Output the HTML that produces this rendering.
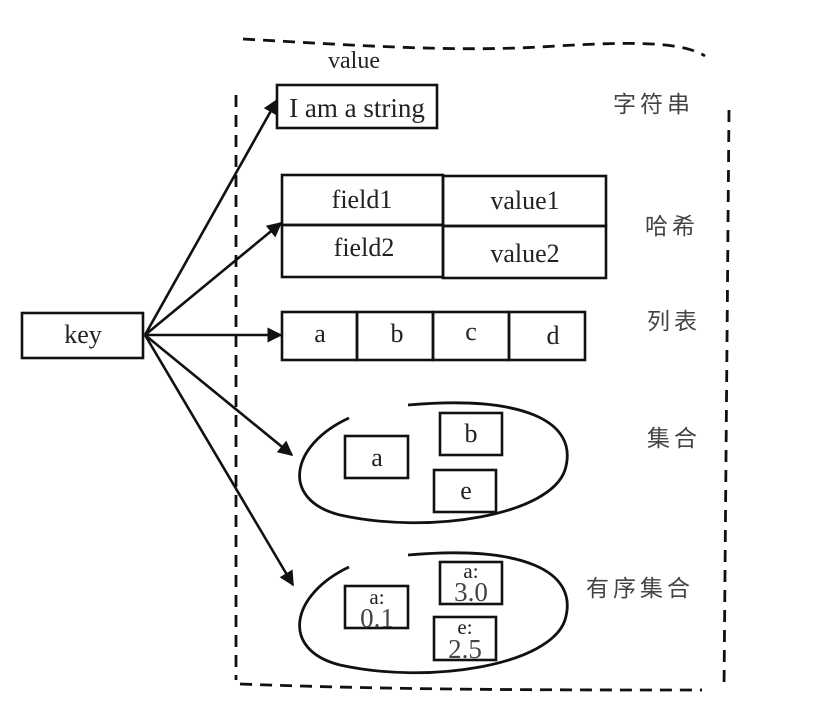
<!DOCTYPE html>
<html><head><style>body{margin:0;background:#fff}svg{display:block}</style></head>
<body>
<svg width="813" height="706" viewBox="0 0 813 706" xmlns="http://www.w3.org/2000/svg">
<defs>
<marker id="a2" viewBox="0 0 10 10" refX="9" refY="5" markerWidth="18" markerHeight="15" orient="auto" markerUnits="userSpaceOnUse"><path d="M0,0 L10,5 L0,10 z" fill="#111"/></marker></defs>
<g fill="none" stroke="#111" stroke-width="2.8" stroke-dasharray="12,8">
<path d="M243,39 C350,45 450,52 540,47 C620,42 680,40 705,56"/>
<path d="M236,95 L236,680"/>
<path d="M729,110 L724,690"/>
<path d="M240,684 C400,690 550,690 702,690"/>
</g>
<g fill="none" stroke="#111" stroke-width="2.6">
<rect x="277" y="85" width="160" height="43"/>
<rect x="282" y="175" width="161" height="50"/>
<rect x="443" y="176" width="163" height="50"/>
<rect x="282" y="225" width="161" height="52"/>
<rect x="443" y="226" width="163" height="52"/>
<rect x="282" y="312" width="75" height="48"/>
<rect x="357" y="312" width="76" height="48"/>
<rect x="433" y="312" width="76" height="48"/>
<rect x="509" y="312" width="76" height="48"/>
<rect x="22" y="313" width="121" height="45"/>
<path d="M349,418 C290,445 280,500 340,515 C430,535 550,515 565,470 C580,420 520,395 408,405" stroke-width="2.8"/>
<rect x="345" y="436" width="63" height="42"/>
<rect x="440" y="413" width="62" height="42"/>
<rect x="434" y="470" width="62" height="42"/>
<path d="M349,567 C290,595 280,650 340,665 C430,685 550,665 565,620 C580,570 520,545 408,555" stroke-width="2.8"/>
<rect x="345" y="586" width="63" height="42"/>
<rect x="440" y="562" width="62" height="42"/>
<rect x="434" y="617" width="62" height="43"/>
</g>
<g stroke="#111" stroke-width="2.6" marker-end="url(#a2)">
<line x1="145" y1="335" x2="277" y2="100"/>
<line x1="145" y1="335" x2="281" y2="223"/>
<line x1="145" y1="335" x2="281" y2="335"/>
<line x1="145" y1="335" x2="292" y2="455"/>
<line x1="145" y1="335" x2="293" y2="585"/>
</g>
<g font-family="Liberation Serif, serif" font-size="26" fill="#222" text-anchor="middle">
<text x="354" y="68" font-size="24">value</text>
<text x="357" y="117" font-size="27">I am a string</text>
<text x="362" y="208">field1</text>
<text x="525" y="209">value1</text>
<text x="364" y="256">field2</text>
<text x="525" y="262">value2</text>
<text x="320" y="342">a</text>
<text x="397" y="342">b</text>
<text x="471" y="340">c</text>
<text x="553" y="344">d</text>
<text x="83" y="343">key</text>
<text x="377" y="466">a</text>
<text x="471" y="442">b</text>
<text x="466" y="499">e</text>
<text x="377" y="604" font-size="21">a:</text>
<text x="377" y="627" fill="#444" font-size="27">0.1</text>
<text x="471" y="578" font-size="21">a:</text>
<text x="471" y="601" fill="#444" font-size="27">3.0</text>
<text x="465" y="634" font-size="21">e:</text>
<text x="465" y="658" fill="#444" font-size="27">2.5</text>
</g>
<g font-family="Liberation Sans, 'Noto Sans CJK SC', sans-serif" font-size="23" fill="#444" letter-spacing="4">
<text x="613" y="112">字符串</text>
<text x="645" y="234">哈希</text>
<text x="647" y="329">列表</text>
<text x="647" y="446">集合</text>
<text x="586" y="596">有序集合</text>
</g>
</svg>
</body></html>
